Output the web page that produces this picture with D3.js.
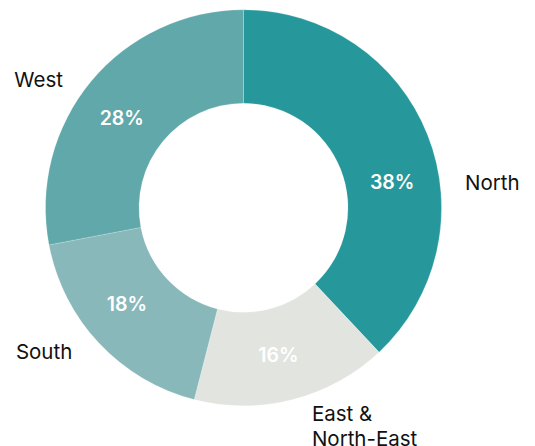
<!DOCTYPE html>
<html>
<head>
<meta charset="utf-8">
<script src="https://cdn.jsdelivr.net/npm/d3@7"></script>
<style>
  body { margin: 0; background: #fff; }
  text { font-family: Inter, "Noto Sans", sans-serif; }
</style>
</head>
<body>
<script>
// ---------------------------------------------- Data ------------------------------------------------- //
var regions = ["North", "East &\nNorth-East", "South", "West"];
var shares = [38, 16, 18, 28];
var colors = ["#26989b", "#e2e4df", "#88b8ba", "#60a8aa"];

// ------------------------------------------- Layout -------------------------------------------------- //
var width = 535, height = 446;
var cx = 243.5, cy = 207.8;
var r_outer = 198, r_inner = 104.5;
var r_pct = 151, r_lbl = 222;
var line_h = 25;
// small nudges (angle in deg, radius in px) so labels sit where the original put them
var pct_nudge = [11.6, 1, 3.8, -3.3];
var lbl_nudge = [15.2, -3, 3.1, -4.3];
var lbl_rnudge = [0.9, 6.7, 1.8, -0.8];

var svg = d3.select("body")
    .append("svg")
    .attr("width", width)
    .attr("height", height);
var g = svg.append("g")
    .attr("transform", "translate(" + cx + "," + cy + ")");

var pie = d3.pie().sort(null).value(function(d) { return d; });
var arcs = pie(shares);

var arc = d3.arc()
    .innerRadius(r_inner)
    .outerRadius(r_outer);

var color = d3.scaleOrdinal().domain(regions).range(colors);

// --------------------------------------------- Slices ------------------------------------------------ //
g.selectAll("path")
    .data(arcs)
    .enter().append("path")
        .attr("d", arc)
        .attr("fill", function(d, i) { return color(regions[i]); })
        .attr("stroke", "#ffffff")
        .attr("stroke-opacity", 0.35)
        .attr("stroke-width", 0.6);

function polar(d, i, r, nudge) {
    var a = (d.startAngle + d.endAngle) / 2 + nudge[i] * Math.PI / 180;
    return [r * Math.sin(a), -r * Math.cos(a)];
}

// ---------------------------------------- Percentage labels ------------------------------------------ //
g.selectAll(".pct")
    .data(arcs)
    .enter().append("text")
        .attr("class", "pct")
        .attr("x", function(d, i) { return polar(d, i, r_pct, pct_nudge)[0]; })
        .attr("y", function(d, i) { return polar(d, i, r_pct, pct_nudge)[1]; })
        .attr("dy", "0.36em")
        .attr("text-anchor", "middle")
        .attr("fill", "#ffffff")
        .attr("font-size", "19.5px")
        .attr("font-weight", 600)
        .text(function(d) { return d.data + "%"; });

// ------------------------------------------ Region labels -------------------------------------------- //
var lbl = g.selectAll(".lbl")
    .data(arcs)
    .enter().append("text")
        .attr("class", "lbl")
        .attr("fill", "#111111")
        .attr("font-size", "20.5px")
        .attr("text-anchor", function(d, i) { return polar(d, i, r_lbl, lbl_nudge)[0] > 0 ? "start" : "end"; })
        .attr("transform", function(d, i) {
            var p = polar(d, i, r_lbl + lbl_rnudge[i], lbl_nudge);
            return "translate(" + p[0] + "," + p[1] + ")";
        });

lbl.each(function(d, i) {
    var lines = regions[i].split("\n");
    var t = d3.select(this);
    var y0 = -(lines.length - 1) * line_h / 2;
    lines.forEach(function(s, k) {
        t.append("tspan")
            .attr("x", 0)
            .attr("y", y0 + k * line_h)
            .attr("dy", "0.36em")
            .text(s);
    });
});
</script>
</body>
</html>
